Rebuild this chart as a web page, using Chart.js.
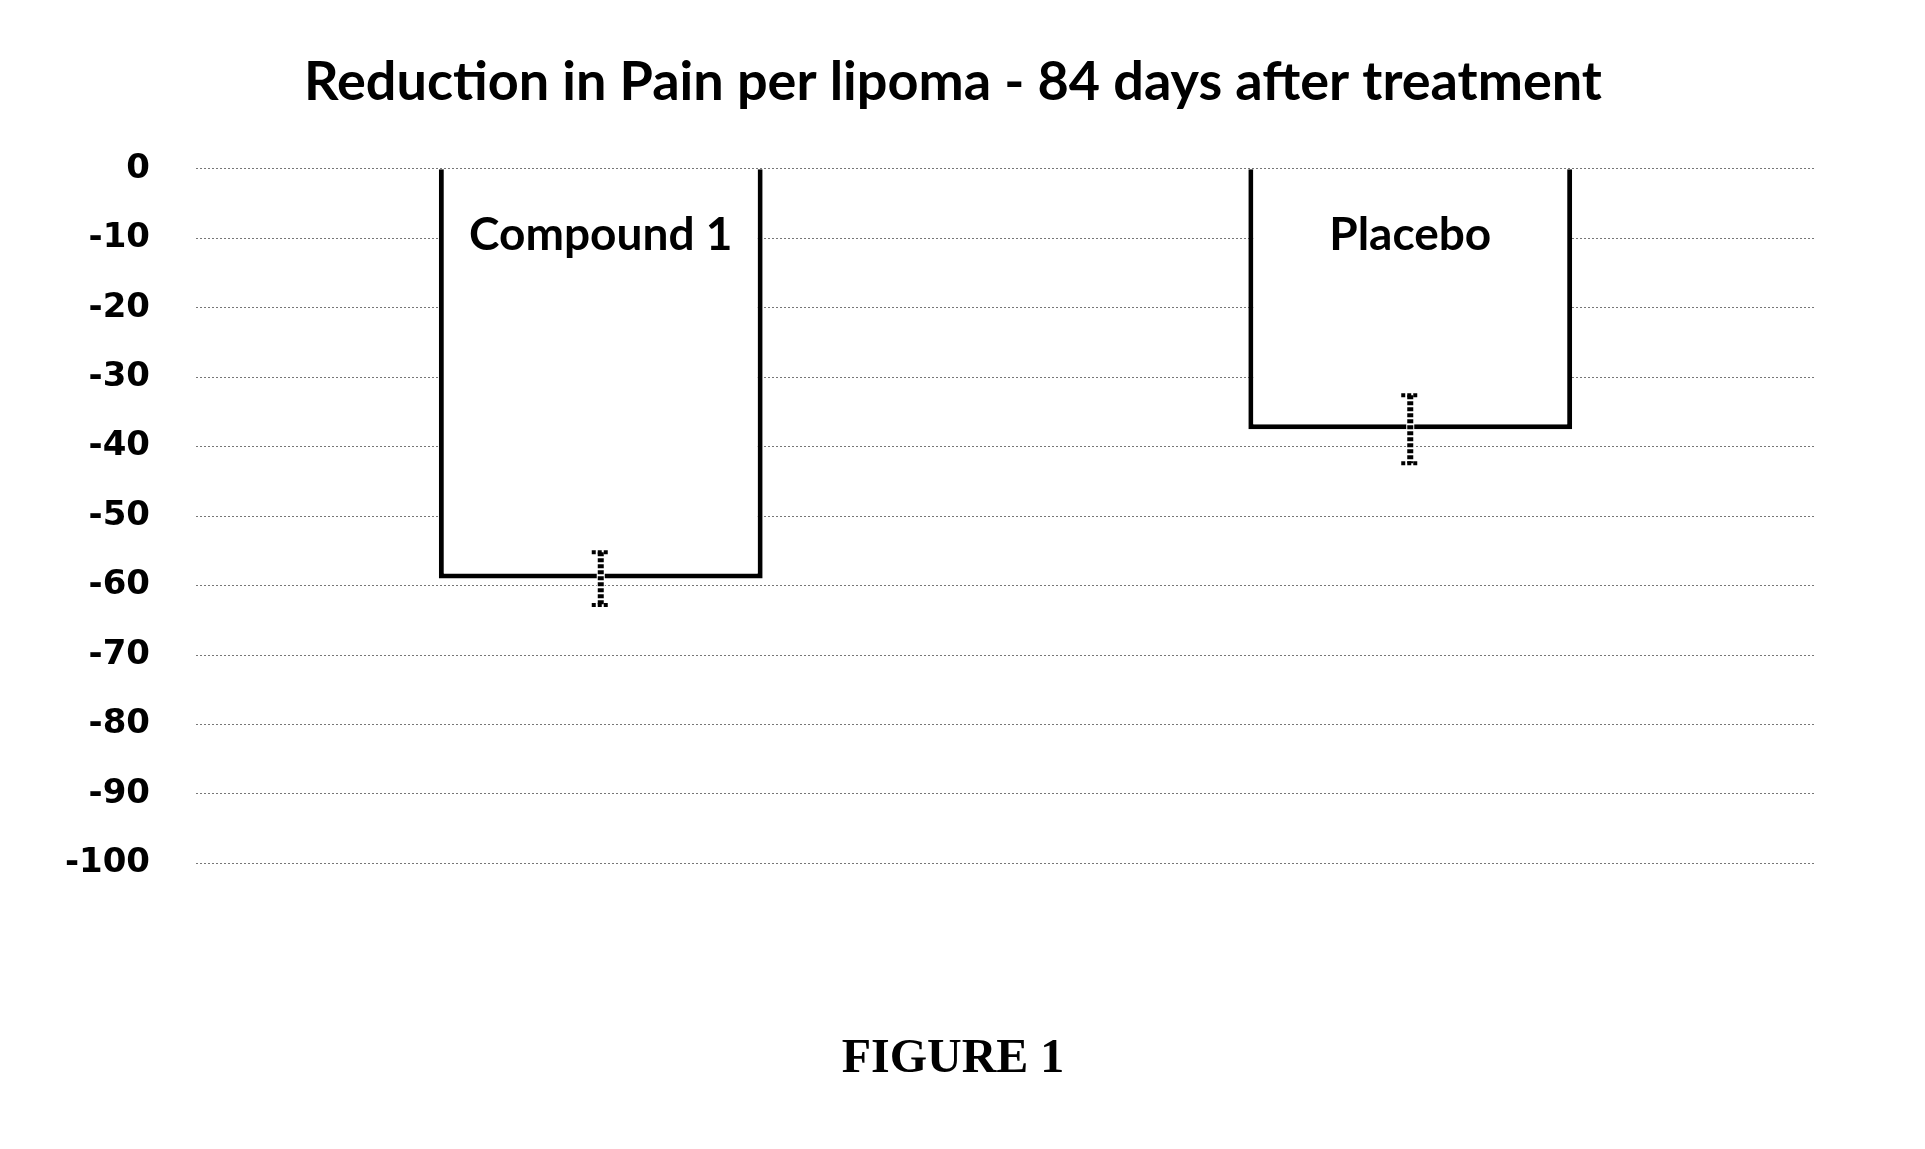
<html>
<head>
  <meta name="viewport" content="width=device-width, initial-scale=1">
  <script type="text/javascript" src="https://cdn.jsdelivr.net/npm/chart.js@4.4.1/dist/chart.umd.min.js"></script>
  <style>
    body { margin: 0; background: #fff; }
    #wrap { position: relative; width: 1925px; height: 1149px; }
  </style>
</head>
<body>
  <div id="wrap"><canvas id="ctx"></canvas></div>

  <script type="text/javascript">
    // data
    groups = ["Compound 1", "Placebo"];
    meanChange = [-59.0, -37.5];
    errSize = [3.8, 4.9];
    yTicks = [0, -10, -20, -30, -40, -50, -60, -70, -80, -90, -100];

    titleText = "Reduction in Pain per lipoma - 84 days after treatment";
    figText = "FIGURE 1";

    // hatched error bars, drawn on top of the bars
    errorBars = {
      id: 'errorBars',
      afterDatasetsDraw: function(chart) {
        var c = chart.ctx;
        var ys = chart.scales.y;
        var meta = chart.getDatasetMeta(0);
        c.save();
        meta.data.forEach(function(bar, i) {
          var x = bar.x;
          var top = ys.getPixelForValue(meanChange[i] + errSize[i]);
          var bot = ys.getPixelForValue(meanChange[i] - errSize[i]);
          c.strokeStyle = "#fff";
          c.lineWidth = 8;
          c.setLineDash([]);
          c.beginPath(); c.moveTo(x, top); c.lineTo(x, bot); c.stroke();
          c.strokeStyle = "#000";
          c.lineWidth = 6;
          c.setLineDash([4, 2]);
          c.beginPath(); c.moveTo(x, top); c.lineTo(x, bot); c.stroke();
          c.lineWidth = 4;
          c.setLineDash([4, 2]);
          c.beginPath(); c.moveTo(x - 9, top); c.lineTo(x + 9, top); c.stroke();
          c.beginPath(); c.moveTo(x - 9, bot); c.lineTo(x + 9, bot); c.stroke();
        });
        c.restore();
      }
    };

    // group names written inside the bars
    barNames = {
      id: 'barNames',
      afterDatasetsDraw: function(chart) {
        var c = chart.ctx;
        var meta = chart.getDatasetMeta(0);
        c.save();
        c.fillStyle = "#000";
        c.font = "bold 46px Lato";
        c.textAlign = "center";
        c.textBaseline = "middle";
        meta.data.forEach(function(bar, i) {
          c.fillText(groups[i], bar.x, chart.chartArea.top + 66);
        });
        c.restore();
      }
    };

    chart = new Chart(document.getElementById("ctx"), {
      type: 'bar',
      data: {
        labels: groups,
        datasets: [{
          data: meanChange,
          backgroundColor: "#fff",
          borderColor: "#000",
          borderWidth: 5,
          borderSkipped: 'start',
          barPercentage: 0.4,
          categoryPercentage: 1.0
        }]
      },
      options: {
        responsive: true,
        maintainAspectRatio: false,
        animation: false,
        layout: {
          padding: { left: 50, right: 69, top: 0, bottom: 0 }
        },
        plugins: {
          legend: { display: false },
          tooltip: { enabled: false },
          title: {
            display: true,
            text: titleText,
            color: "#000",
            font: { family: "Lato", weight: "bold", size: 54 },
            padding: { top: 50, bottom: 54 }
          },
          subtitle: {
            display: true,
            position: 'bottom',
            text: figText,
            color: "#000",
            font: { family: "Liberation Serif", weight: "bold", size: 48 },
            padding: { top: 167, bottom: 61 }
          }
        },
        scales: {
          x: { display: false },
          y: {
            min: -100,
            max: 0,
            afterBuildTicks: function(axis) {
              axis.ticks = yTicks.map(function(v) { return { value: v }; });
            },
            afterFit: function(axis) {
              axis.width = 146;
            },
            border: { display: false, dash: [2, 2] },
            grid: {
              color: "#777",
              lineWidth: 1,
              drawTicks: false
            },
            ticks: {
              color: "#000",
              padding: 46,
              font: { family: "DejaVu Sans", weight: "bold", size: 34 }
            }
          },
          // empty right-hand spacer so the title stays centred on the page
          yR: {
            position: 'right',
            afterFit: function(axis) {
              axis.width = 41;
            },
            border: { display: false },
            grid: { display: false, drawTicks: false },
            ticks: { display: false }
          }
        }
      },
      plugins: [errorBars, barNames]
    });
  </script>
</body>
</html>
